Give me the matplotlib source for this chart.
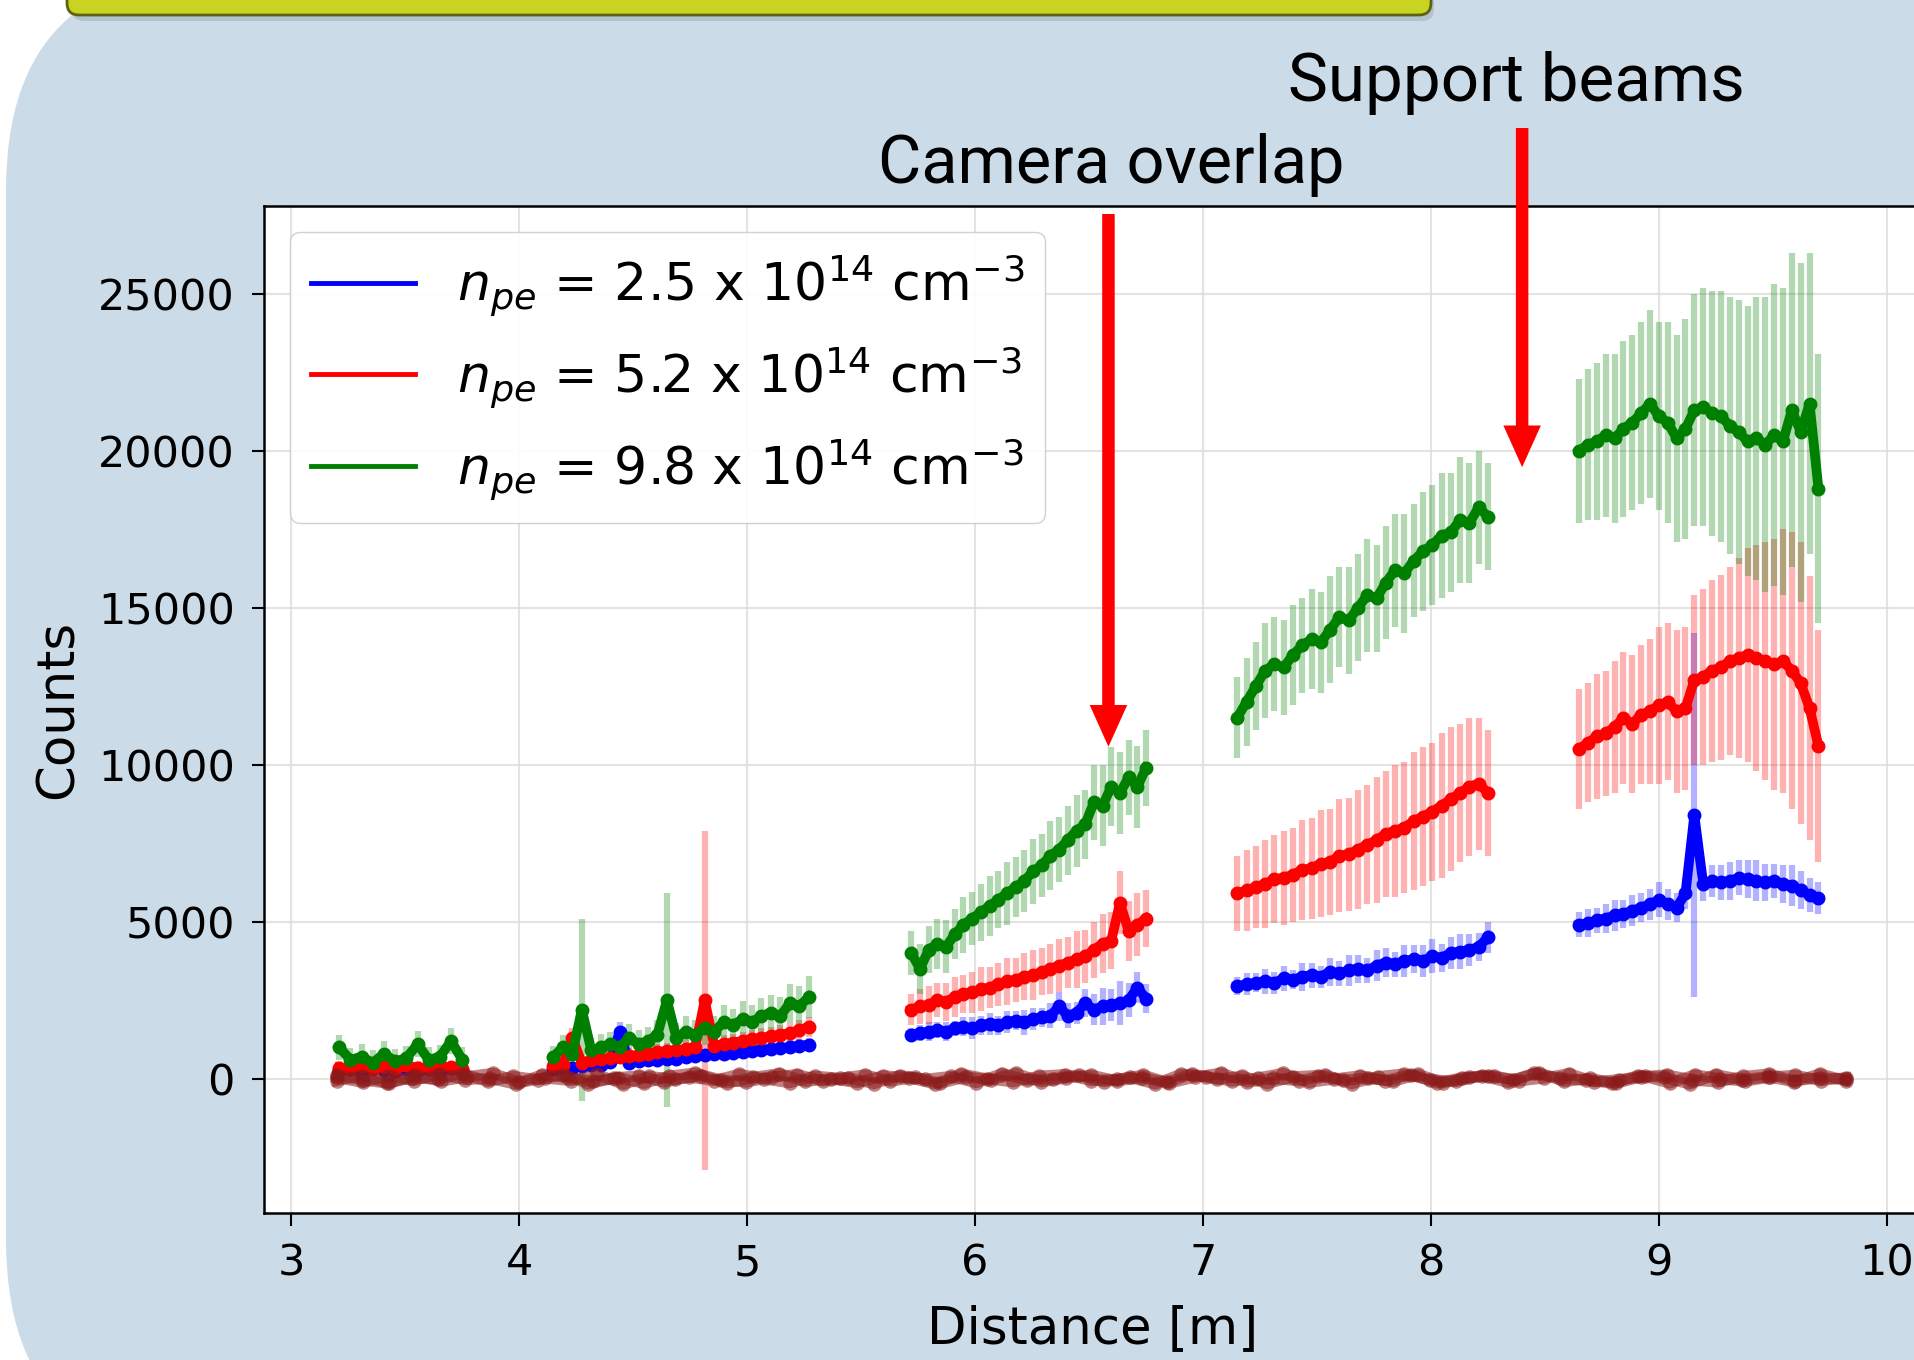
import matplotlib
matplotlib.use("Agg")
import matplotlib.pyplot as plt
import numpy as np
from matplotlib.patches import FancyBboxPatch
from matplotlib.lines import Line2D

# camera segments along the plasma column (start, stop) in m
seg_ranges = [(3.21, 3.75), (4.15, 5.27), (5.72, 6.75), (7.15, 8.25), (8.65, 9.70)]

# n_pe = 2.5e14
blue_vals = [
    [250, 300, 220, 350, 280, 250, 320, 270, 300, 240, 330, 280],
    [300, 350, 330, 400, 420, 450, 520, 1500, 500, 560, 580, 600, 640, 620,
     700, 720, 750, 780, 800, 830, 860, 880, 920, 950, 980, 1000, 1050, 1080],
    [1400, 1450, 1500, 1550, 1500, 1600, 1650, 1600, 1700, 1750, 1700, 1800, 1850, 1800,
     1900, 1950, 2000, 2300, 2000, 2100, 2400, 2200, 2300, 2350, 2400, 2500, 2900, 2550],
    [2950, 3000, 3050, 3100, 3050, 3200, 3150, 3250, 3300, 3250, 3400, 3350, 3450, 3500,
     3450, 3600, 3700, 3650, 3750, 3800, 3750, 3900, 3850, 4000, 4050, 4100, 4200, 4500],
    [4900, 4950, 5050, 5100, 5200, 5250, 5350, 5450, 5550, 5700, 5550, 5450, 5900, 8400,
     6200, 6300, 6250, 6300, 6400, 6350, 6300, 6250, 6300, 6200, 6150, 6000, 5850, 5750],
]
blue_err = [
    [150, 150, 150, 160, 150, 150, 160, 150, 150, 150, 160, 150],
    [120, 150, 130, 160, 150, 140, 170, 300, 160, 150, 180, 170, 160, 190,
     180, 170, 200, 190, 180, 210, 200, 190, 220, 210, 200, 230, 220, 210],
    [200, 250, 300, 250, 300, 250, 300, 350, 300, 350, 300, 350, 300, 400,
     350, 300, 400, 450, 400, 350, 450, 500, 600, 500, 700, 550, 500, 450],
    [300, 350, 300, 400, 350, 400, 300, 450, 400, 350, 450, 400, 500, 450,
     400, 500, 450, 400, 500, 450, 500, 550, 450, 500, 550, 500, 450, 500],
    [400, 450, 400, 450, 500, 450, 500, 450, 500, 550, 500, 450, 500, 5800,
     550, 500, 550, 600, 550, 600, 650, 600, 550, 600, 650, 600, 550, 500],
]

# n_pe = 5.2e14
red_vals = [
    [350, 300, 400, 320, 380, 300, 420, 350, 330, 400, 360, 320],
    [400, 450, 1300, 500, 600, 620, 650, 700, 720, 760, 800, 850, 880, 900,
     950, 1000, 2500, 1050, 1100, 1150, 1200, 1250, 1300, 1350, 1400, 1450, 1550, 1650],
    [2200, 2300, 2350, 2500, 2450, 2600, 2700, 2750, 2850, 2900, 3000, 3100, 3150, 3250,
     3300, 3400, 3500, 3600, 3700, 3800, 3900, 4100, 4300, 4400, 5600, 4700, 4900, 5100],
    [5900, 6000, 6100, 6200, 6350, 6400, 6500, 6650, 6700, 6850, 6900, 7100, 7150, 7300,
     7450, 7600, 7800, 7900, 8000, 8200, 8350, 8500, 8700, 8900, 9100, 9300, 9400, 9100],
    [10500, 10700, 10900, 11000, 11200, 11500, 11300, 11600, 11700, 11900, 12000, 11700, 11800, 12700,
     12800, 13000, 13100, 13300, 13400, 13500, 13400, 13300, 13200, 13300, 13000, 12600, 11800, 10600],
]
red_err = [
    [200, 200, 220, 200, 210, 200, 220, 200, 200, 210, 200, 200],
    [200, 220, 300, 210, 230, 220, 240, 230, 250, 240, 260, 250, 270, 260,
     280, 270, 5400, 280, 290, 280, 300, 290, 310, 300, 320, 310, 330, 320],
    [500, 550, 600, 550, 600, 650, 600, 650, 700, 650, 700, 750, 700, 750,
     800, 750, 800, 850, 800, 900, 850, 900, 950, 900, 1000, 950, 1000, 900],
    [1200, 1300, 1300, 1400, 1400, 1500, 1500, 1600, 1600, 1700, 1700, 1800, 1800, 1900,
     1900, 2000, 2000, 2100, 2100, 2200, 2200, 2200, 2300, 2300, 2200, 2200, 2100, 2000],
    [1900, 1900, 2000, 2000, 2100, 2100, 2200, 2200, 2300, 2500, 2500, 2600, 2600, 2700,
     2800, 2900, 2950, 3000, 3200, 3400, 3600, 3800, 4000, 4200, 4400, 4500, 4200, 3700],
]

# n_pe = 9.8e14
green_vals = [
    [1000, 600, 700, 500, 800, 550, 650, 1100, 600, 700, 1200, 600],
    [700, 1000, 800, 2200, 900, 1000, 1100, 1000, 1300, 1100, 1200, 1400, 2500, 1300,
     1500, 1400, 1600, 1500, 1800, 1700, 1900, 1800, 2000, 2100, 2000, 2400, 2300, 2600],
    [4000, 3500, 4100, 4300, 4200, 4600, 4900, 5100, 5300, 5500, 5700, 5900, 6100, 6300,
     6600, 6800, 7100, 7300, 7600, 7900, 8100, 8800, 8700, 9300, 9100, 9600, 9300, 9900],
    [11500, 12000, 12500, 13000, 13200, 13100, 13500, 13800, 14000, 13900, 14300, 14700, 14600, 15000,
     15400, 15300, 15800, 16200, 16100, 16500, 16800, 17000, 17300, 17400, 17800, 17700, 18200, 17900],
    [20000, 20200, 20300, 20500, 20400, 20700, 20900, 21200, 21500, 21100, 20900, 20400, 20700, 21300,
     21400, 21200, 21100, 20800, 20600, 20300, 20400, 20200, 20500, 20300, 21300, 20600, 21500, 18800],
]
green_err = [
    [400, 380, 400, 420, 400, 380, 400, 420, 400, 380, 400, 420],
    [350, 400, 380, 2900, 400, 420, 400, 450, 430, 460, 440, 480, 3400, 470,
     500, 480, 520, 500, 540, 520, 560, 540, 580, 560, 600, 620, 640, 660],
    [700, 800, 750, 800, 850, 800, 900, 850, 900, 950, 900, 1000, 950, 1000,
     1050, 1000, 1100, 1050, 1100, 1150, 1100, 1200, 1300, 1250, 1300, 1200, 1300, 1200],
    [1300, 1400, 1400, 1500, 1500, 1500, 1600, 1500, 1600, 1600, 1700, 1600, 1700, 1700,
     1800, 1700, 1800, 1800, 1900, 1800, 1900, 1900, 2000, 1900, 2000, 1900, 1800, 1700],
    [2300, 2400, 2500, 2600, 2700, 2800, 2800, 2900, 3000, 3000, 3200, 3300, 3500, 3700,
     3800, 3900, 4000, 4100, 4200, 4300, 4500, 4700, 4800, 4900, 5000, 5400, 4800, 4300],
]

# background (no plasma) level, three shots
bg_range = (3.20, 9.82)
bg_a = [40, -120, 90, -60, 150, -30, 10, -180, 120, 60, -90, 30, -150, 80, 180, -40,
        -110, 50, 130, -70, 20, -160, 100, -20, 70, -130, 160, -50, 0, 110, -100, 40,
        -170, 140, 60, -80, 20, 170, -120, -10, 90, -60, 130, -140, 30, 80, -30, 190,
        -90, 10, -150, 60, 120, -40, -110, 70, 150, -70, 30, -20]
bg_b = [-60, 100, -140, 30, -20, 160, -90, 70, -30, 130, -170, 20, 90, -110, 50, -60,
        140, -10, -130, 80, 10, 120, -80, 40, -150, 60, -40, 170, -100, 20, 110, -70,
        30, -120, 150, -20, 80, -160, 60, 100, -50, 10, -90, 140, -130, 40, 90, -70,
        20, 160, -100, -30, 70, -140, 120, 0, -80, 50, 110, -60, 30]
bg_c = [120, -40, -150, 110, -80, 60, 170, -120, 20, -60, 140, -180, 70, -20, 100, -140,
        40, 160, -90, 0, -130, 90, 30, -170, 150, -10, -100, 80, 130, -60, -20, 110,
        -140, 50, 180, -110, 10, -70, 120, -160, 60, 150, -30, -90, 100, -120, 170, 20,
        -50, -140, 90, 40, -170, 130, -30, 60, -100, 150, -60]

labels = [r'$n_{pe}$ = 2.5 x 10$^{14}$ cm$^{-3}$',
          r'$n_{pe}$ = 5.2 x 10$^{14}$ cm$^{-3}$',
          r'$n_{pe}$ = 9.8 x 10$^{14}$ cm$^{-3}$']
colors = ['blue', 'red', 'green']

plt.rcParams['font.family'] = 'DejaVu Sans'

W, H = 1914, 1360
fig = plt.figure(figsize=(W / 100, H / 100), dpi=100, facecolor='white')

# slide background
fig.add_artist(FancyBboxPatch((0.06, -1.0), 25, 14.9, boxstyle='round,pad=0,rounding_size=2.2',
                              transform=fig.dpi_scale_trans, fc='#cbdbe7', ec='none', zorder=0))
fig.add_artist(FancyBboxPatch((0.72, 13.39), 13.62, 1.0, boxstyle='round,pad=0,rounding_size=0.12',
                              transform=fig.dpi_scale_trans, fc='#6f7a80', ec='none', alpha=0.25, zorder=0))
fig.add_artist(FancyBboxPatch((0.67, 13.45), 13.64, 1.0, boxstyle='round,pad=0,rounding_size=0.12',
                              transform=fig.dpi_scale_trans, fc='#c9d422', ec='#5d6113', lw=2, zorder=1))

ax = fig.add_axes([264 / W, 1 - 1213 / H, (1921 - 264) / W, (1213 - 206) / H])
ax.set_facecolor('white')

for vals_list, err_list, c in [(blue_vals, blue_err, 'blue'), (red_vals, red_err, 'red'),
                               (green_vals, green_err, 'green')]:
    for (x0, x1), v, e in zip(seg_ranges, vals_list, err_list):
        x = np.linspace(x0, x1, len(v))
        ax.errorbar(x, v, yerr=e, fmt='none', ecolor=c, alpha=0.3, elinewidth=4.5, zorder=2)
        ax.plot(x, v, color=c, lw=7, marker='o', ms=9, zorder=3)

for bg in (bg_a, bg_b, bg_c):
    xb = np.linspace(bg_range[0], bg_range[1], len(bg))
    ax.plot(xb, bg, color='#8b1a1a', alpha=0.55, lw=8, marker='o', ms=10.5, mec='none', zorder=4)

ax.set_xlim(2.88, 10.15)
ax.set_ylim(-4280, 27800)
ax.set_xticks(range(3, 11))
ax.set_yticks(range(0, 25001, 5000))
ax.grid(True, color='#dcdcdc', lw=1.5, alpha=0.8)
ax.set_axisbelow(True)
ax.tick_params(labelsize=31, length=9, width=1.5, pad=12)
for s in ax.spines.values():
    s.set_linewidth(1.8)
ax.set_xlabel('Distance [m]', fontsize=37, labelpad=14)
ax.set_ylabel('Counts', fontsize=37, labelpad=10)

handles = [Line2D([], [], color=c, lw=3.5) for c in colors]
ax.legend(handles, labels, loc='upper left', fontsize=37.5, edgecolor='#cccccc', framealpha=0.9)

# annotations
arrow = dict(arrowstyle='simple,head_length=0.5,head_width=0.45,tail_width=0.15',
             mutation_scale=60, fc='red', ec='red', lw=0, shrinkA=0, shrinkB=0)
ax.annotate('', xy=(6.585, 10575), xycoords='data',
            xytext=(6.585, 1 - 214 / H), textcoords=('data', 'figure fraction'),
            arrowprops=arrow, annotation_clip=False)
ax.annotate('', xy=(8.40, 19480), xycoords='data',
            xytext=(8.40, 1 - 128 / H), textcoords=('data', 'figure fraction'),
            arrowprops=arrow, annotation_clip=False)
fig.text(1516 / W, 1 - 83 / H, 'Support beams', ha='center', va='center', fontsize=48.5, family='Roboto')
fig.text(1111 / W, 1 - 165 / H, 'Camera overlap', ha='center', va='center', fontsize=48, family='Roboto')

fig.savefig('out.png', dpi=100, facecolor='white')
